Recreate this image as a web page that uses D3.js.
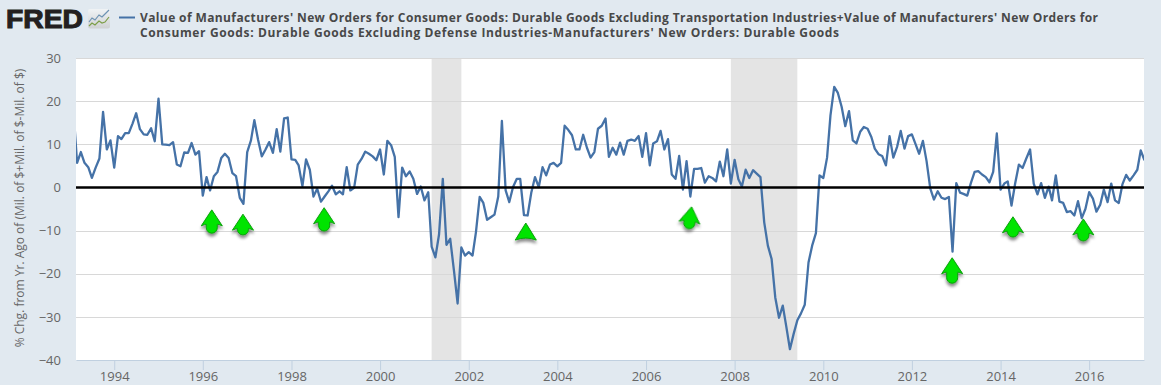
<!DOCTYPE html>
<html><head><meta charset="utf-8">
<script src="https://cdnjs.cloudflare.com/ajax/libs/d3/7.8.5/d3.min.js"></script>
<style>
html,body{margin:0;padding:0;background:#e1e9f0;overflow:hidden}
svg{display:block}
text{font-family:"Open Sans",sans-serif}
</style></head><body>
<div id="chart"></div>
<script>
const legendLines = [
  "Value of Manufacturers' New Orders for Consumer Goods: Durable Goods Excluding Transportation Industries+Value of Manufacturers' New Orders for",
  "Consumer Goods: Durable Goods Excluding Defense Industries-Manufacturers' New Orders: Durable Goods"
];
const yLabel = "% Chg. from Yr. Ago of (Mil. of $+Mil. of $-Mil. of $)";
const firstMonth = "1993-02";
// monthly values, Feb 1993 onward
const values = [
17.0,5.7,8.2,5.7,4.7,2.2,4.6,6.7,17.5,8.8,10.9,4.6,
11.9,11.2,12.6,12.6,14.8,17.2,13.5,12.3,12.2,13.7,10.7,20.6,
10.0,9.9,9.8,10.5,5.3,4.9,8.1,8.0,10.3,7.6,8.4,-1.9,
2.4,-0.7,2.6,3.6,6.8,7.8,6.8,3.3,2.6,-2.4,-3.8,8.2,
10.9,15.6,11.0,7.2,8.8,10.5,8.0,13.5,8.3,16.0,16.2,6.5,
6.4,5.1,0.3,6.5,4.1,-2.1,-0.3,-3.3,-2.1,-0.9,0.4,-1.6,
-0.9,-1.6,4.7,-0.7,-0.1,5.3,6.6,8.3,7.8,7.2,6.3,8.8,
3.0,10.8,9.8,7.1,-6.9,4.6,2.6,3.7,2.0,-1.5,0.2,-3.0,
-1.1,-13.7,-16.2,-10.9,2.0,-13.3,-11.9,-19.3,-26.9,-13.9,-15.8,-15.0,
-15.8,-10.4,-2.2,-3.6,-7.5,-6.9,-6.3,-2.1,15.4,-0.7,-3.4,0.1,
2.0,2.0,-6.4,-6.5,-1.1,2.4,0.1,4.7,2.8,5.3,5.7,4.9,
5.7,14.3,13.3,12.1,8.8,8.8,12.2,9.2,6.9,8.2,13.6,14.3,
16.0,7.1,9.2,7.6,10.4,7.6,10.8,11.1,10.8,11.9,7.1,12.6,
5.1,10.2,10.7,13.1,8.8,11.2,3.0,2.0,7.3,-0.5,6.1,-2.1,
4.3,4.3,4.5,1.1,2.6,2.2,1.4,6.0,2.6,8.8,0.9,6.4,
1.9,0.2,4.1,2.2,4.0,3.2,2.4,-8.1,-13.5,-16.6,-25.5,-30.2,
-27.4,-32.1,-37.5,-34.0,-30.8,-29.2,-27.2,-17.4,-13.5,-10.6,2.8,2.2,
6.9,16.7,23.3,21.9,18.7,14.2,17.7,10.9,10.2,12.9,14.0,13.6,
11.7,9.0,7.7,7.3,5.1,11.9,6.9,9.4,13.1,9.0,11.9,12.3,
10.0,7.8,10.8,6.1,-0.3,-2.8,-0.9,-2.4,-2.7,-2.2,-14.9,1.0,
-1.2,-1.5,-1.9,1.0,3.6,3.8,3.0,2.4,1.2,3.6,12.5,-0.5,
0.9,1.4,-4.2,0.9,5.3,4.5,6.7,8.8,0.9,-1.6,1.0,-2.4,
0.2,-3.0,2.8,-3.3,-3.6,-5.7,-5.5,-6.5,-3.2,-7.1,-5.0,-1.1,
-2.6,-5.6,-4.0,-0.5,-3.4,0.9,-3.0,-3.6,0.7,2.9,1.6,2.8,
4.1,8.6,6.3];
const tickYears = [1994,1996,1998,2000,2002,2004,2006,2008,2010,2012,2014,2016];
const yTicks = [30,20,10,0,-10,-20,-30,-40];
const recessionStarts = ["2001-03-01","2007-12-01"];
const recessionEnds = ["2001-11-01","2009-06-01"];
const arrowDates = ["1996-03-15","1996-11-27","1998-09-27","2003-04-16","2007-01-12","2012-11-28","2014-04-13","2015-11-14"];
const arrowTips  = [-5.2,-6.2,-4.7,-8.25,-4.5,-16.3,-6.8,-7.3];
const arrowTails = [-10.6,-11.0,-10.1,-12.2,-9.6,-22.2,-11.5,-12.4];
const arrowTilts = [0,0,0,0,8,0,0,0];

const W=1161,H=385, L=76,R=1144,T=58,B=360;
const parseMonth=d3.utcParse("%Y-%m"), parseDay=d3.utcParse("%Y-%m-%d");
const start=parseMonth(firstMonth);
const series=values.map((v,i)=>({date:d3.utcMonth.offset(start,i),value:v}));
const x=d3.scaleUtc().domain([new Date(Date.UTC(1993,1,20)),new Date(Date.UTC(2017,2,28))]).range([L,R]);
const y=d3.scaleLinear().domain([-40,30]).range([B,T]);

const svg=d3.select("#chart").append("svg").attr("width",W).attr("height",H);
const defs=svg.append("defs");
defs.append("clipPath").attr("id","plot").append("rect").attr("x",L).attr("y",T).attr("width",R-L).attr("height",B-T);
const sh=defs.append("filter").attr("id","shadow").attr("x","-50%").attr("y","-50%").attr("width","200%").attr("height","200%");
sh.append("feDropShadow").attr("dx",0).attr("dy",3).attr("stdDeviation",1.8).attr("flood-color","#000").attr("flood-opacity",.45);
const lg=defs.append("linearGradient").attr("id","icon").attr("x1",0).attr("y1",0).attr("x2",0).attr("y2",1);
lg.append("stop").attr("offset",0).attr("stop-color","#f0f3f5");
lg.append("stop").attr("offset",1).attr("stop-color","#cfd1d3");

svg.append("rect").attr("width",W).attr("height",H).attr("fill","#e1e9f0");
svg.append("rect").attr("x",L).attr("y",T).attr("width",R-L).attr("height",B-T).attr("fill","#fff");

// recessions
svg.append("g").selectAll("rect").data(recessionStarts).join("rect")
  .attr("x",d=>x(parseDay(d))).attr("y",T)
  .attr("width",(d,i)=>x(parseDay(recessionEnds[i]))-x(parseDay(d))).attr("height",B-T)
  .attr("fill","#e4e4e4");

// y axis + grid
const ya=svg.append("g").attr("transform",`translate(${L},0)`)
  .call(d3.axisLeft(y).tickValues(yTicks).tickSize(0).tickPadding(15).tickFormat(d3.format("d")));
ya.select(".domain").remove();
ya.selectAll("text").attr("fill","#666").attr("font-size",13).style("font-family",'"Open Sans",sans-serif');
svg.append("g").selectAll("line").data(yTicks.filter(d=>d!==-40&&d!==0)).join("line")
  .attr("x1",L).attr("x2",R).attr("y1",d=>Math.round(y(d))+.5).attr("y2",d=>Math.round(y(d))+.5)
  .attr("stroke","#d8d8d8").attr("stroke-width",1);

// x axis
const xa=svg.append("g").attr("transform",`translate(0,${B})`)
  .call(d3.axisBottom(x).tickValues(tickYears.map(t=>new Date(Date.UTC(t,0,1)))).tickSize(10).tickPadding(1.5).tickSizeOuter(0).tickFormat(d3.utcFormat("%Y")));
xa.select(".domain").attr("stroke","#c0d0e0");
xa.selectAll("line").attr("stroke","#c0d0e0");
xa.selectAll("text").attr("fill","#666").attr("font-size",13).style("font-family",'"Open Sans",sans-serif');

// series
svg.append("path").datum(series).attr("clip-path","url(#plot)")
  .attr("fill","none").attr("stroke","#4572a7").attr("stroke-width",2.3).attr("stroke-linejoin","round")
  .attr("d",d3.line().x(d=>x(d.date)).y(d=>y(d.value)));

// zero line
svg.append("line").attr("x1",L).attr("x2",R).attr("y1",y(0)).attr("y2",y(0)).attr("stroke","#000").attr("stroke-width",2.6);

// arrows
const hw=10.5,hh=16,sw=5.5;
svg.append("g").selectAll("path").data(arrowDates).join("path")
  .attr("filter","url(#shadow)")
  .attr("fill","#02e402").attr("stroke","#0aa00a").attr("stroke-width",1).attr("stroke-linejoin","round")
  .attr("transform",(d,i)=>`translate(${x(parseDay(d))},${y(arrowTips[i])}) rotate(${arrowTilts[i]})`)
  .attr("d",(d,i)=>{
    const len=y(arrowTails[i])-y(arrowTips[i]);
    if(len<=hh+2) return `M0,0L${hw},${len}Q0,${len-4} ${-hw},${len}Z`;
    return `M0,0L${hw},${hh}Q${sw+1},${hh-2} ${sw},${hh-1.5}L${sw},${len-sw}A${sw},${sw} 0 0 1 ${-sw},${len-sw}L${-sw},${hh-1.5}Q${-sw-1},${hh-2} ${-hw},${hh}Z`;
  });

// y label
svg.append("text").attr("transform",`translate(24,208) rotate(-90)`).attr("text-anchor","middle")
  .attr("fill","#666").attr("font-size",12).text(yLabel);

// legend
const legendWidths=[958,699];
svg.append("line").attr("x1",119).attr("x2",135).attr("y1",17.5).attr("y2",17.5).attr("stroke","#4572a7").attr("stroke-width",2);
svg.append("g").selectAll("text").data(legendLines).join("text")
  .attr("x",140).attr("y",(d,i)=>22+i*15)
  .attr("textLength",(d,i)=>legendWidths[i]).attr("lengthAdjust","spacing")
  .attr("fill","#484848").attr("font-size",12).attr("font-weight",700).text(d=>d);

// logo
const logo=svg.append("g");
logo.append("text").attr("x",6).attr("y",28).attr("textLength",77).attr("lengthAdjust","spacingAndGlyphs")
  .style("font-family",'"Liberation Sans",sans-serif').attr("font-weight",700).attr("font-size",25)
  .attr("fill","#231f20").attr("stroke","#231f20").attr("stroke-width",1).text("FRED");
logo.append("rect").attr("x",88).attr("y",9).attr("width",22).attr("height",19.5).attr("rx",2).attr("fill","url(#icon)");
logo.append("path").attr("fill","none").attr("stroke","#6e93b3").attr("stroke-width",1.2)
  .attr("d","M89,22L92,18L95,20L99,15L102,17L105,14L109,10");
logo.append("path").attr("fill","none").attr("stroke","#7d9e48").attr("stroke-width",1.2)
  .attr("d","M89,26L92,23L95,25L99,21L102,23L105,22L109,17");
</script>
</body></html>
